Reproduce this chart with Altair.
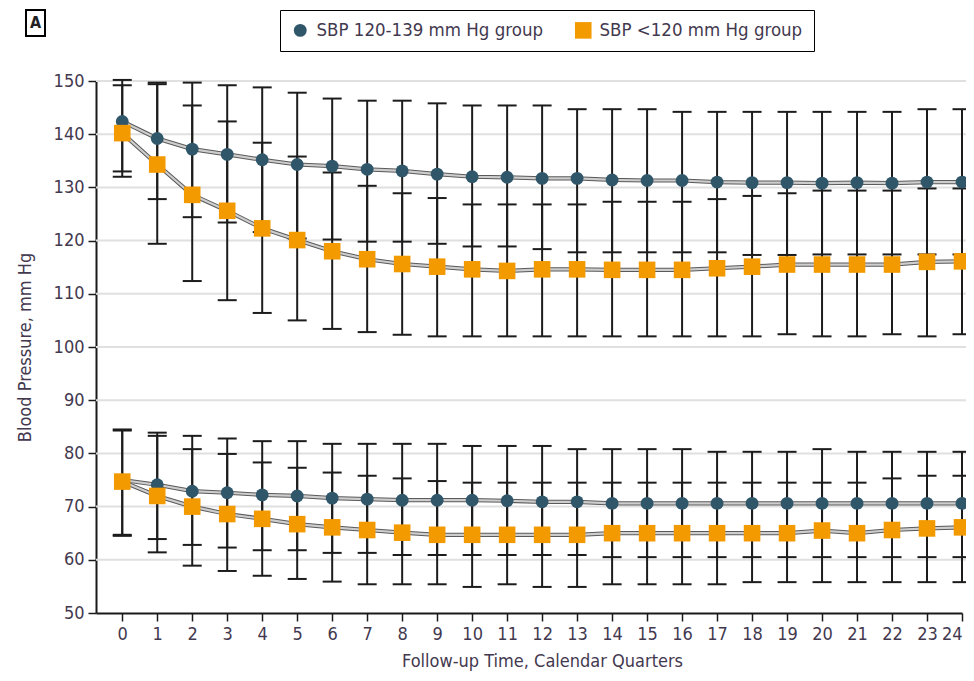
import altair as alt
import pandas as pd

quarters = list(range(25))
groups = ["SBP 120-139 mm Hg group", "SBP <120 mm Hg group"]
y_ticks = [50, 60, 70, 80, 90, 100, 110, 120, 130, 140, 150]
grid_vals = [60, 70, 80, 90, 100, 110, 120, 130, 140, 150]

# Standard group (SBP 120-139) – systolic
std_sys_mean = [142.4, 139.2, 137.2, 136.2, 135.2, 134.3, 134.0, 133.4, 133.1, 132.5, 132.0, 131.9, 131.7,
                131.7, 131.4, 131.3, 131.3, 131.0, 130.9, 130.9, 130.8, 130.9, 130.8, 131.0, 131.0]
std_sys_hi = [150.2, 149.7, 149.7, 149.2, 148.8, 147.8, 146.7, 146.3, 146.3, 145.8, 145.4, 145.4, 145.4,
              144.7, 144.7, 144.7, 144.2, 144.2, 144.2, 144.2, 144.2, 144.2, 144.2, 144.7, 144.7]
std_sys_lo = [133.0, 127.8, 124.4, 123.4, 121.6, 120.4, 120.2, 119.8, 119.8, 119.4, 118.9, 118.9, 118.4,
              117.8, 117.8, 117.8, 117.8, 117.8, 117.3, 117.3, 117.4, 117.4, 117.4, 117.4, 117.4]
# Intensive group (SBP <120) – systolic
int_sys_mean = [140.2, 134.3, 128.6, 125.6, 122.3, 120.1, 118.0, 116.5, 115.6, 115.1, 114.6, 114.3, 114.6,
                114.6, 114.5, 114.5, 114.5, 114.8, 115.1, 115.5, 115.5, 115.5, 115.5, 116.0, 116.1]
int_sys_hi = [149.2, 149.4, 145.4, 142.4, 138.4, 135.8, 132.8, 130.3, 128.9, 128.0, 126.8, 126.8, 126.8,
              126.8, 127.3, 127.3, 127.3, 127.8, 128.4, 128.9, 129.4, 129.4, 129.4, 129.8, 129.8]
int_sys_lo = [132.0, 119.4, 112.4, 108.8, 106.4, 105.0, 103.4, 102.8, 102.3, 102.0, 102.0, 102.0, 102.0,
              102.0, 102.0, 102.0, 102.0, 102.0, 102.0, 102.4, 102.0, 102.0, 102.4, 102.0, 102.4]
# Standard group – diastolic
std_dia_mean = [75.0, 74.1, 72.9, 72.6, 72.2, 72.0, 71.6, 71.4, 71.2, 71.2, 71.2, 71.1, 70.9,
                70.9, 70.6, 70.6, 70.6, 70.6, 70.6, 70.6, 70.6, 70.6, 70.6, 70.6, 70.6]
std_dia_hi = [84.3, 83.9, 83.3, 82.8, 82.3, 82.3, 81.8, 81.8, 81.8, 81.8, 81.4, 81.4, 81.4,
              80.8, 80.8, 80.8, 80.8, 80.3, 80.3, 80.3, 80.8, 80.3, 80.3, 80.3, 80.3]
std_dia_lo = [64.7, 63.9, 62.8, 62.3, 61.8, 61.8, 61.3, 61.3, 60.9, 60.9, 60.9, 60.9, 60.9,
              60.9, 60.5, 60.5, 60.5, 60.5, 60.5, 60.5, 60.5, 60.5, 60.5, 60.5, 60.5]
# Intensive group – diastolic
int_dia_mean = [74.7, 72.0, 70.0, 68.6, 67.7, 66.7, 66.1, 65.6, 65.1, 64.7, 64.7, 64.7, 64.7,
                64.7, 65.0, 65.0, 65.0, 65.0, 65.0, 65.0, 65.5, 65.0, 65.6, 65.9, 66.1]
int_dia_hi = [84.5, 83.3, 80.8, 79.9, 78.3, 77.3, 76.4, 75.8, 75.3, 74.8, 74.5, 74.5, 74.5,
              74.5, 74.5, 74.5, 74.5, 74.5, 74.5, 74.5, 74.5, 74.5, 75.3, 75.8, 75.8]
int_dia_lo = [64.5, 61.4, 58.9, 57.9, 57.0, 56.4, 55.9, 55.4, 55.4, 55.4, 54.9, 55.4, 54.9,
              54.9, 55.4, 55.4, 55.4, 55.4, 55.8, 55.8, 55.8, 55.8, 55.8, 55.8, 55.8]

series = [
    (groups[0], "sys", std_sys_mean, std_sys_lo, std_sys_hi),
    (groups[0], "dia", std_dia_mean, std_dia_lo, std_dia_hi),
    (groups[1], "sys", int_sys_mean, int_sys_lo, int_sys_hi),
    (groups[1], "dia", int_dia_mean, int_dia_lo, int_dia_hi),
]
rows = []
for g, m, mean, lo, hi in series:
    for q, a, b, c in zip(quarters, mean, lo, hi):
        rows.append({"q": q, "group": g, "measure": m, "series": g + " " + m,
                     "mean": a, "lo": b, "hi": c})
df = pd.DataFrame(rows)

BLUE = "#30566a"
ORANGE = "#f39a00"
TXT = "#43394f"
FONT = "DejaVu Sans Condensed, Liberation Sans Narrow, DejaVu Sans"
W, H = 866, 532

xscale = alt.Scale(domain=[-0.75, 24], nice=False, zero=False)
yscale = alt.Scale(domain=[50, 150], nice=False, zero=False)
xaxis = alt.Axis(values=quarters, title="Follow-up Time, Calendar Quarters", grid=False,
                 titleX=446, titleY=48, titleBaseline="middle")
yaxis = alt.Axis(values=y_ticks, title="Blood Pressure, mm Hg", grid=False,
                 titleX=-71, titleY=266, titleAlign="center", titleBaseline="middle")

X = alt.X("q:Q", scale=xscale, axis=xaxis)

grid = alt.Chart(pd.DataFrame({"v": grid_vals})).mark_rule(color="#e0e0e0", strokeWidth=2).encode(
    y=alt.Y("v:Q", scale=yscale, axis=yaxis), x=alt.value(0), x2=alt.value(W + 4))

base = alt.Chart(df)
bars = base.mark_rule(color="#1c1c1c", strokeWidth=2).encode(
    x=X, y=alt.Y("lo:Q", scale=yscale, axis=yaxis), y2="hi:Q")
cap_lo = base.mark_tick(orient="horizontal", size=19, thickness=2, color="#1c1c1c", opacity=1).encode(
    x=X, y=alt.Y("lo:Q", scale=yscale, axis=yaxis))
cap_hi = base.mark_tick(orient="horizontal", size=19, thickness=2, color="#1c1c1c", opacity=1).encode(
    x=X, y=alt.Y("hi:Q", scale=yscale, axis=yaxis))
line_dark = base.mark_line(color="#5a5a5a", strokeWidth=4.2).encode(
    x=X, y=alt.Y("mean:Q", scale=yscale, axis=yaxis), detail="series:N")
line_light = base.mark_line(color="#cdcdcd", strokeWidth=2.2).encode(
    x=X, y=alt.Y("mean:Q", scale=yscale, axis=yaxis), detail="series:N")
leg = alt.Legend(title=None, orient="none", legendX=184, legendY=-71, direction="horizontal")
points = base.mark_point(filled=True, opacity=1, strokeWidth=0).encode(
    x=X, y=alt.Y("mean:Q", scale=yscale, axis=yaxis),
    color=alt.Color("group:N", scale=alt.Scale(domain=groups, range=[BLUE, ORANGE]), legend=leg),
    shape=alt.Shape("group:N", scale=alt.Scale(domain=groups, range=["circle", "square"]), legend=leg),
    size=alt.Size("group:N", scale=alt.Scale(domain=groups, range=[165, 275]), legend=None),
)

one = pd.DataFrame({"k": [0]})
abox = alt.Chart(one).mark_rect(filled=False, stroke="black", strokeWidth=2).encode(
    x=alt.value(-70), x2=alt.value(-51), y=alt.value(-71), y2=alt.value(-45))
atext = alt.Chart(one).mark_text(text="A", font=FONT, fontSize=16, fontWeight="bold", color="#222",
                                 align="center", baseline="middle").encode(
    x=alt.value(-60.5), y=alt.value(-58))

chart = alt.layer(grid, bars, cap_lo, cap_hi, line_dark, line_light, points, abox, atext).properties(
    width=W, height=H,
    autosize=alt.AutoSizeParams(type="none"),
    padding={"left": 88, "top": 73, "right": 4, "bottom": 60},
).configure_view(stroke=None).configure_axis(
    domainColor="#1a1a1a", domainWidth=2, tickColor="#1a1a1a", tickWidth=1.5, tickSize=8,
    labelFont=FONT, labelFontSize=18, labelColor=TXT, labelPadding=4,
    titleFont=FONT, titleFontSize=18, titleColor=TXT, titleFontWeight="normal",
).configure_legend(
    labelFont=FONT, labelFontSize=18.5, labelColor=TXT, labelLimit=0, symbolSize=190, symbolStrokeWidth=0,
    strokeColor="black", padding=11, columnPadding=30, labelOffset=7, fillColor="white",
)

chart.save("out.html", embed_options={"renderer": "svg", "actions": False})
